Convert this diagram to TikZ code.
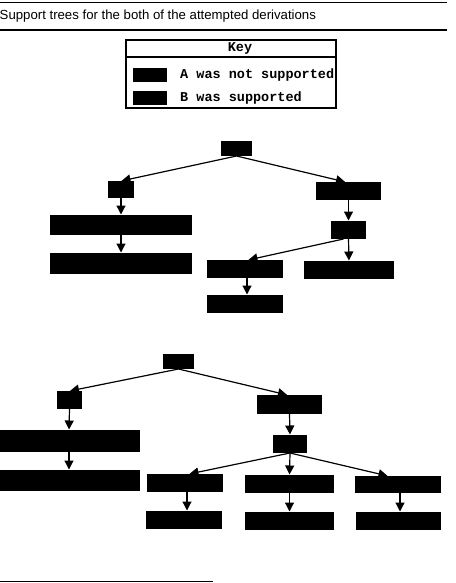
\documentclass[tikz,border=0pt]{standalone}
\usepackage{fontspec}
\setmainfont{Liberation Sans}
\newfontfamily\keyfont{Liberation Mono}
\usetikzlibrary{arrows.meta,calc}
\newcommand\blkbox[5]{\node[blk,minimum width=#4pt,minimum height=#5pt] (#1) at (#2,#3) {};}
\begin{document}
\begin{tikzpicture}[x=1pt,y=-1pt,
  blk/.style={fill=black,draw=none,inner sep=0pt,outer sep=0pt},
  arr/.style={line width=1.2pt,-{Triangle[length=9pt,width=9pt]},shorten >=0.5pt},
  rulel/.style={line width=1.3pt},
  keytxt/.style={font=\keyfont\bfseries\fontsize{13.5}{14}\selectfont,inner sep=0pt}]
\useasboundingbox (0,0) rectangle (455,583);
% rules and title
\draw[rulel] (0,2.7) -- (447,2.7);
\node[anchor=base west,inner sep=0pt,font=\fontsize{13.2}{14}\selectfont] (title) at (-0.5,20) {Support trees for the both of the attempted derivations};
\draw[rulel] (0,30) -- (447,30);
\draw[rulel] (0,581.7) -- (213,581.7);
% key
\draw[line width=1.3pt] (126,40) rectangle (336,108);
\draw[line width=1.3pt] (126,57) -- (336,57);
\node[keytxt] (kh) at (240,48.5) {Key};
\blkbox{sa}{150}{75}{34}{14}
\blkbox{sb}{150}{98}{34}{14}
\node[keytxt,anchor=west] (ka) at (180,75) {A was not supported};
\node[keytxt,anchor=west] (kb) at (180,98) {B was supported};
% tree 1
\blkbox{r1}{236.5}{148.5}{31}{15}
\blkbox{a1}{121}{189.5}{26}{17}
\blkbox{b1}{348.5}{191}{65}{18}
\blkbox{a2}{121}{225}{142}{20}
\blkbox{a3}{121}{263.5}{142}{21}
\blkbox{b2}{348.5}{230}{35}{18}
\blkbox{b3}{245}{269}{76}{18}
\blkbox{b4}{349}{270}{90}{18}
\blkbox{b5}{245}{304}{76}{18}
\draw[arr] (r1.south) -- (a1.north);
\draw[arr] (r1.south) -- ([xshift=-3pt]b1.north);
\draw[arr] (a1.south) -- (a2.north);
\draw[arr] (a2.south) -- (a3.north);
\draw[arr] (b1.south) -- (b2.north);
\draw[arr] ([xshift=-5pt]b2.south) -- ([xshift=3pt]b3.north);
\draw[arr] (b2.south) -- (b4.north);
\draw[arr] ([xshift=2pt]b3.south) -- ([xshift=2pt]b5.north);
% tree 2
\blkbox{r2}{178.5}{361.5}{31}{15}
\blkbox{c1}{69.5}{400}{25}{18}
\blkbox{d1}{289.5}{404.5}{65}{19}
\blkbox{c2}{69}{441}{142}{22}
\blkbox{c3}{69}{480.5}{142}{21}
\blkbox{d2}{290}{444}{34}{18}
\blkbox{e1}{185}{483}{76}{18}
\blkbox{e2}{289.5}{484}{89}{18}
\blkbox{e3}{398}{484.5}{86}{17}
\blkbox{f1}{184}{520}{76}{18}
\blkbox{f2}{289.5}{521}{89}{18}
\blkbox{f3}{398.5}{521}{85}{18}
\draw[arr] (r2.south) -- (c1.north);
\draw[arr] (r2.south) -- ([xshift=-2pt]d1.north);
\draw[arr] (c1.south) -- (c2.north);
\draw[arr] (c2.south) -- (c3.north);
\draw[arr] (d1.south) -- (d2.north);
\draw[arr] (d2.south) -- ([xshift=4pt]e1.north);
\draw[arr] (d2.south) -- (e2.north);
\draw[arr] (d2.south) -- ([xshift=-10pt]e3.north);
\draw[arr] ([xshift=2pt]e1.south) -- ([xshift=3pt]f1.north);
\draw[arr] (e2.south) -- (f2.north);
\draw[arr] ([xshift=2pt]e3.south) -- ([xshift=1.5pt]f3.north);
\end{tikzpicture}
\end{document}
